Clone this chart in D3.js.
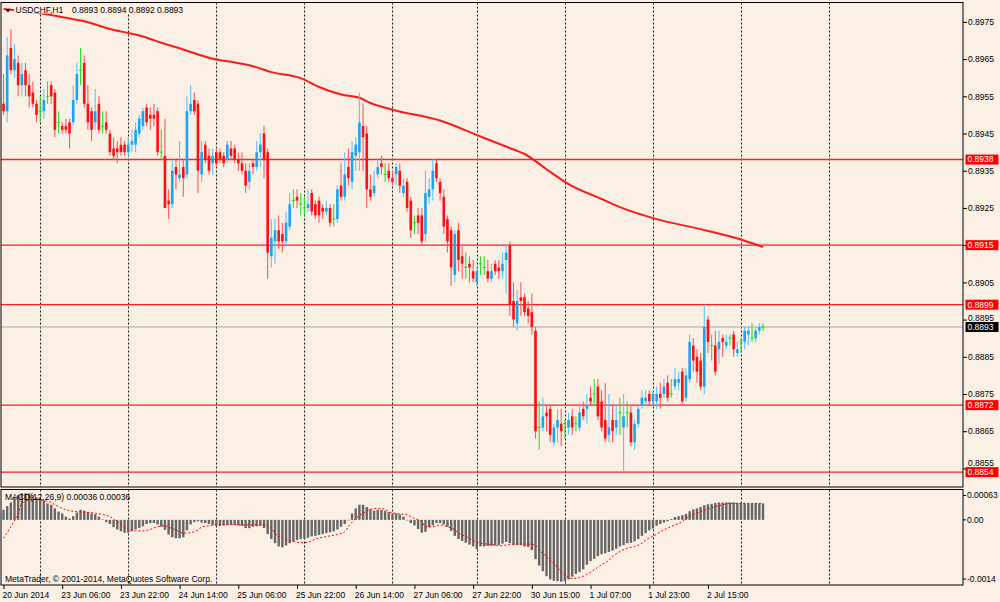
<!DOCTYPE html>
<html lang="en">
<head>
<meta charset="UTF-8" />
<title>USDCHF,H1</title>
<script src="https://d3js.org/d3.v7.min.js"></script>
<style>
  body { margin: 0; background: #faf0e6; }
  svg { display: block; font-family: "Liberation Sans", Arial, sans-serif; font-size: 8.5px; }
</style>
</head>
<body>
<svg width="1000" height="602"></svg>
<script>
// hourly bars, 20 Jun 2014 14:00 .. 3 Jul 2014 06:00
const opens = [
  0.8953,0.8951,0.8968,0.8962,0.8964,0.8958,0.8962,0.8958,0.8956,0.8953,
  0.8951,0.8951,0.8955,0.8958,0.8956,0.8948,0.8947,0.8947,0.8948,0.8948,
  0.8954,0.8962,0.8964,0.8953,0.8951,0.8948,0.8953,0.8947,0.8948,0.8945,
  0.8941,0.8941,0.8942,0.8942,0.8940,0.8942,0.8942,0.8945,0.8947,0.8952,
  0.8950,0.8950,0.8951,0.8940,0.8939,0.8927,0.8926,0.8936,0.8933,0.8936,
  0.8934,0.8951,0.8954,0.8953,0.8934,0.8942,0.8939,0.8937,0.8940,0.8940,
  0.8939,0.8938,0.8941,0.8941,0.8938,0.8937,0.8935,0.8932,0.8937,0.8936,
  0.8940,0.8945,0.8940,0.8912,0.8916,0.8919,0.8918,0.8916,0.8920,0.8927,
  0.8928,0.8926,0.8925,0.8925,0.8929,0.8926,0.8927,0.8925,0.8924,0.8925,
  0.8922,0.8922,0.8931,0.8928,0.8936,0.8932,0.8939,0.8940,0.8947,0.8945,
  0.8930,0.8929,0.8934,0.8937,0.8934,0.8935,0.8933,0.8934,0.8935,0.8929,
  0.8932,0.8927,0.8921,0.8923,0.8923,0.8918,0.8928,0.8930,0.8937,0.8932,
  0.8928,0.8922,0.8919,0.8907,0.8919,0.8912,0.8909,0.8910,0.8908,0.8905,
  0.8910,0.8909,0.8908,0.8906,0.8910,0.8909,0.8908,0.8911,0.8915,0.8900,
  0.8894,0.8901,0.8901,0.8898,0.8897,0.8892,0.8866,0.8866,0.8870,0.8871,
  0.8862,0.8866,0.8867,0.8867,0.8866,0.8869,0.8867,0.8866,0.8871,0.8871,
  0.8874,0.8875,0.8877,0.8873,0.8868,0.8864,0.8868,0.8866,0.8870,0.8866,
  0.8870,0.8870,0.8862,0.8867,0.8872,0.8873,0.8875,0.8873,0.8873,0.8875,
  0.8875,0.8878,0.8875,0.8877,0.8878,0.8881,0.8874,0.8879,0.8888,0.8885,
  0.8884,0.8877,0.8895,0.8888,0.8888,0.8887,0.8890,0.8888,0.8890,0.8891,
  0.8886,0.8889,0.8889,0.8891,0.8890,0.8890,0.8892,0.8893
];
const highs = [
  0.8961,0.8971,0.8973,0.8969,0.8966,0.8964,0.8964,0.8961,0.8959,0.8954,
  0.8955,0.8957,0.8959,0.8959,0.8957,0.8951,0.8948,0.8949,0.8949,0.8958,
  0.8964,0.8968,0.8966,0.8958,0.8952,0.8957,0.8955,0.8951,0.8951,0.8946,
  0.8944,0.8943,0.8944,0.8943,0.8944,0.8946,0.8948,0.8950,0.8952,0.8953,
  0.8952,0.8953,0.8952,0.8946,0.8949,0.8930,0.8938,0.8938,0.8943,0.8938,
  0.8955,0.8958,0.8956,0.8954,0.8943,0.8943,0.8941,0.8941,0.8941,0.8941,
  0.8940,0.8943,0.8943,0.8942,0.8940,0.8940,0.8937,0.8937,0.8938,0.8943,
  0.8945,0.8947,0.8941,0.8922,0.8922,0.8923,0.8921,0.8924,0.8929,0.8930,
  0.8930,0.8929,0.8928,0.8930,0.8930,0.8927,0.8928,0.8926,0.8927,0.8926,
  0.8926,0.8931,0.8937,0.8940,0.8941,0.8943,0.8944,0.8956,0.8953,0.8947,
  0.8934,0.8935,0.8938,0.8939,0.8937,0.8937,0.8935,0.8937,0.8937,0.8933,
  0.8933,0.8928,0.8923,0.8925,0.8925,0.8935,0.8933,0.8938,0.8938,0.8933,
  0.8930,0.8923,0.8920,0.8919,0.8921,0.8915,0.8913,0.8912,0.8911,0.8909,
  0.8912,0.8912,0.8911,0.8910,0.8911,0.8911,0.8913,0.8915,0.8916,0.8905,
  0.8903,0.8905,0.8902,0.8900,0.8902,0.8893,0.8873,0.8874,0.8872,0.8872,
  0.8867,0.8871,0.8871,0.8868,0.8870,0.8871,0.8869,0.8872,0.8873,0.8875,
  0.8877,0.8879,0.8879,0.8876,0.8878,0.8875,0.8872,0.8872,0.8874,0.8875,
  0.8873,0.8872,0.8868,0.8872,0.8876,0.8876,0.8876,0.8876,0.8877,0.8878,
  0.8879,0.8880,0.8879,0.8882,0.8881,0.8882,0.8882,0.8891,0.8890,0.8887,
  0.8886,0.8899,0.8896,0.8891,0.8892,0.8892,0.8891,0.8891,0.8891,0.8892,
  0.8889,0.8890,0.8893,0.8893,0.8894,0.8893,0.8894,0.8894
];
const lows = [
  0.8950,0.8948,0.8961,0.8960,0.8955,0.8955,0.8955,0.8952,0.8952,0.8948,
  0.8948,0.8949,0.8953,0.8953,0.8944,0.8945,0.8945,0.8945,0.8941,0.8947,
  0.8953,0.8958,0.8952,0.8946,0.8943,0.8946,0.8945,0.8945,0.8945,0.8939,
  0.8938,0.8937,0.8939,0.8939,0.8939,0.8940,0.8940,0.8944,0.8946,0.8947,
  0.8946,0.8947,0.8939,0.8938,0.8925,0.8922,0.8925,0.8930,0.8932,0.8928,
  0.8933,0.8950,0.8950,0.8929,0.8932,0.8937,0.8934,0.8934,0.8936,0.8937,
  0.8936,0.8937,0.8938,0.8937,0.8935,0.8934,0.8929,0.8930,0.8934,0.8935,
  0.8936,0.8933,0.8906,0.8909,0.8910,0.8914,0.8913,0.8915,0.8919,0.8925,
  0.8925,0.8923,0.8923,0.8924,0.8923,0.8922,0.8921,0.8922,0.8923,0.8920,
  0.8920,0.8921,0.8927,0.8927,0.8931,0.8930,0.8935,0.8935,0.8935,0.8925,
  0.8927,0.8928,0.8933,0.8934,0.8932,0.8932,0.8931,0.8931,0.8929,0.8928,
  0.8924,0.8917,0.8918,0.8918,0.8915,0.8916,0.8926,0.8927,0.8932,0.8927,
  0.8918,0.8913,0.8904,0.8905,0.8908,0.8906,0.8906,0.8905,0.8905,0.8904,
  0.8907,0.8907,0.8905,0.8905,0.8907,0.8906,0.8906,0.8902,0.8896,0.8893,
  0.8892,0.8896,0.8896,0.8894,0.8891,0.8863,0.8860,0.8865,0.8865,0.8862,
  0.8861,0.8862,0.8861,0.8863,0.8864,0.8864,0.8865,0.8865,0.8868,0.8867,
  0.8872,0.8872,0.8868,0.8865,0.8862,0.8862,0.8862,0.8864,0.8864,0.8854,
  0.8866,0.8861,0.8860,0.8866,0.8871,0.8872,0.8872,0.8872,0.8871,0.8871,
  0.8874,0.8873,0.8874,0.8876,0.8876,0.8872,0.8873,0.8878,0.8881,0.8878,
  0.8876,0.8875,0.8886,0.8884,0.8880,0.8883,0.8885,0.8887,0.8888,0.8885,
  0.8885,0.8886,0.8887,0.8888,0.8889,0.8889,0.8891,0.8892
];
const closes = [
  0.8951,0.8966,0.8962,0.8965,0.8958,0.8961,0.8958,0.8955,0.8953,0.8950,
  0.8951,0.8954,0.8955,0.8955,0.8946,0.8948,0.8946,0.8946,0.8945,0.8954,
  0.8961,0.8962,0.8953,0.8948,0.8946,0.8951,0.8946,0.8947,0.8946,0.8940,
  0.8939,0.8940,0.8940,0.8940,0.8942,0.8943,0.8946,0.8949,0.8951,0.8948,
  0.8949,0.8949,0.8940,0.8940,0.8925,0.8926,0.8935,0.8934,0.8934,0.8933,
  0.8951,0.8953,0.8951,0.8935,0.8940,0.8938,0.8935,0.8939,0.8937,0.8938,
  0.8937,0.8942,0.8939,0.8938,0.8937,0.8935,0.8931,0.8935,0.8936,0.8940,
  0.8942,0.8938,0.8913,0.8917,0.8919,0.8916,0.8916,0.8921,0.8926,0.8927,
  0.8927,0.8926,0.8925,0.8926,0.8924,0.8923,0.8923,0.8924,0.8925,0.8921,
  0.8922,0.8930,0.8928,0.8934,0.8933,0.8940,0.8942,0.8948,0.8944,0.8930,
  0.8928,0.8931,0.8936,0.8936,0.8934,0.8933,0.8932,0.8936,0.8931,0.8931,
  0.8925,0.8919,0.8921,0.8921,0.8916,0.8929,0.8930,0.8935,0.8933,0.8929,
  0.8920,0.8916,0.8909,0.8918,0.8911,0.8910,0.8909,0.8909,0.8906,0.8908,
  0.8910,0.8909,0.8906,0.8908,0.8908,0.8908,0.8910,0.8913,0.8899,0.8895,
  0.8900,0.8900,0.8897,0.8896,0.8893,0.8865,0.8866,0.8869,0.8869,0.8864,
  0.8866,0.8868,0.8865,0.8867,0.8868,0.8866,0.8867,0.8870,0.8869,0.8872,
  0.8873,0.8875,0.8869,0.8866,0.8863,0.8866,0.8865,0.8868,0.8870,0.8869,
  0.8870,0.8862,0.8867,0.8871,0.8874,0.8874,0.8873,0.8875,0.8875,0.8874,
  0.8877,0.8874,0.8875,0.8879,0.8879,0.8873,0.8880,0.8889,0.8884,0.8881,
  0.8877,0.8893,0.8889,0.8888,0.8881,0.8889,0.8889,0.8889,0.8890,0.8887,
  0.8887,0.8889,0.8892,0.8892,0.8890,0.8892,0.8893,0.8893
];

// MACD(12,26,9) main values, one per bar
const macd = [
  0.00022,0.00030,0.00038,0.00049,0.00054,0.00058,0.00058,0.00058,0.00054,0.00049,
  0.00046,0.00042,0.00036,0.00033,0.00025,0.00018,0.00014,0.00007,0.00003,0.00008,
  0.00016,0.00022,0.00020,0.00017,0.00014,0.00012,0.00007,0.00001,-0.00005,-0.00009,
  -0.00016,-0.00021,-0.00025,-0.00028,-0.00028,-0.00025,-0.00021,-0.00018,-0.00014,-0.00009,
  -0.00007,-0.00007,-0.00010,-0.00015,-0.00022,-0.00032,-0.00038,-0.00040,-0.00040,-0.00038,
  -0.00023,-0.00010,-0.00005,-0.00003,-0.00006,-0.00007,-0.00009,-0.00011,-0.00013,-0.00013,
  -0.00012,-0.00011,-0.00011,-0.00011,-0.00012,-0.00013,-0.00018,-0.00018,-0.00015,-0.00014,
  -0.00013,-0.00018,-0.00031,-0.00042,-0.00051,-0.00058,-0.00060,-0.00056,-0.00051,-0.00047,
  -0.00044,-0.00042,-0.00041,-0.00039,-0.00036,-0.00035,-0.00033,-0.00031,-0.00029,-0.00027,
  -0.00025,-0.00021,-0.00015,-0.00009,-0.00001,0.00014,0.00025,0.00033,0.00033,0.00028,
  0.00023,0.00020,0.00022,0.00022,0.00020,0.00017,0.00014,0.00014,0.00012,0.00007,
  0.00000,-0.00007,-0.00012,-0.00020,-0.00028,-0.00026,-0.00016,-0.00012,-0.00007,-0.00007,
  -0.00010,-0.00015,-0.00024,-0.00035,-0.00042,-0.00046,-0.00050,-0.00054,-0.00058,-0.00064,
  -0.00058,-0.00058,-0.00057,-0.00057,-0.00056,-0.00055,-0.00052,-0.00048,-0.00051,-0.00055,
  -0.00055,-0.00055,-0.00058,-0.00059,-0.00066,-0.00086,-0.00100,-0.00112,-0.00123,-0.00130,
  -0.00133,-0.00134,-0.00135,-0.00134,-0.00130,-0.00124,-0.00118,-0.00114,-0.00108,-0.00098,
  -0.00090,-0.00085,-0.00079,-0.00075,-0.00073,-0.00070,-0.00067,-0.00063,-0.00058,-0.00055,
  -0.00051,-0.00050,-0.00047,-0.00042,-0.00035,-0.00029,-0.00023,-0.00019,-0.00013,-0.00009,
  -0.00006,-0.00003,0.00002,0.00006,0.00008,0.00010,0.00013,0.00019,0.00023,0.00025,
  0.00028,0.00032,0.00034,0.00035,0.00037,0.00038,0.00038,0.00038,0.00038,0.00038,
  0.00037,0.00036,0.00036,0.00036,0.00036,0.00036,0.00036,0.00036
];

// signal line, read at these bars
const signalBars = [0,2,4,5,7,9,11,13,14,16,18,20,22,24,25,27,29,31,33,34,36,38,40,42,44,45,47,49,51,53,
  54,56,58,60,62,64,65,67,69,71,73,74,76,78,80,82,84,85,87,89,91,93,94,96,98,100,102,104,105,107,
  110,112,114,115,117,119,121,123,124,126,128,130,132,134,135,137,139,141,143,145,146,148,150,152,154,155,157,159,
  161,163,165,166,168,170,172,174,175,177,179,181,183,185,186,188,190,192,194,196,197,199,203,207];
const signalVals = [-0.00040,-0.00015,0.00014,0.00036,0.00043,0.00045,0.00042,0.00038,0.00033,0.00025,
  0.00020,0.00018,0.00017,0.00016,0.00014,0.00012,0.00007,-0.00004,-0.00015,-0.00021,-0.00024,-0.00024,
  -0.00021,-0.00015,-0.00013,-0.00016,-0.00022,-0.00029,-0.00028,-0.00022,-0.00016,-0.00013,-0.00011,
  -0.00011,-0.00010,-0.00011,-0.00011,-0.00011,-0.00011,-0.00011,-0.00018,-0.00029,-0.00040,-0.00045,
  -0.00049,-0.00050,-0.00046,-0.00042,-0.00038,-0.00035,-0.00032,-0.00026,-0.00015,0.00003,0.00014,
  0.00023,0.00025,0.00023,0.00018,0.00014,
  0.00011,0.00003,-0.00004,-0.00015,-0.00015,-0.00011,-0.00015,-0.00022,-0.00029,-0.00036,-0.00045,
  -0.00051,-0.00053,-0.00055,-0.00057,-0.00055,-0.00053,-0.00053,-0.00053,-0.00055,-0.00066,-0.00080,
  -0.00095,-0.00113,-0.00126,-0.00128,-0.00126,-0.00119,-0.00109,-0.00098,-0.00088,-0.00080,-0.00069,
  -0.00062,-0.00058,-0.00051,-0.00044,-0.00036,-0.00026,-0.00018,-0.00011,-0.00004,0.00003,0.00011,
  0.00018,0.00023,0.00029,0.00033,0.00035,0.00036,0.00036,0.00036];

// moving average, read at these bars
const maBars = [0,11,17,22,29,34,38,43,49,57,63,68,73,81,86,92,97,100,106,119,130,139,142,148,154,163,168,178,190,202,207];
const maVals = [0.89785,0.89772,0.89761,0.89752,0.89731,0.89720,0.89711,0.89694,0.89676,0.89651,0.89641,
  0.89631,0.89615,0.89599,0.89575,0.89555,0.89546,0.89532,0.89514,0.89485,0.89442,0.89407,0.89395,
  0.89354,0.89314,0.89274,0.89252,0.89220,0.89193,0.89162,0.89145];

const levels = [0.8938, 0.8915, 0.8899, 0.8872, 0.8854];
const bidPrice = 0.8893;
const priceTicks = [0.8975,0.8965,0.8955,0.8945,0.8935,0.8925,0.8915,0.8905,0.8895,0.8885,0.8875,0.8865,0.8855];
const macdTicks = [0.00063, 0, -0.0014];
const macdTickLabels = ["0.00063", "0.00", "-0.0014"];
const dayStarts = [10, 34, 58, 82, 106, 129, 153, 177, 201, 225];
const timeTickBars = [0,16,32,48,64,80,96,112,128,144,160,176,192];
const timeTickLabels = ["20 Jun 2014","23 Jun 06:00","23 Jun 22:00","24 Jun 14:00","25 Jun 06:00",
  "25 Jun 22:00","26 Jun 14:00","27 Jun 06:00","27 Jun 22:00","30 Jun 15:00","1 Jul 07:00",
  "1 Jul 23:00","2 Jul 15:00"];

const svg = d3.select("svg");
const R = 963, mainTop = 2.5, mainBot = 487, macdTop = 489.5, macdBot = 585;
const last = closes.length - 1;

const x = d3.scaleLinear().domain([0, last]).range([3.5, 763]);
const y = d3.scaleLinear().domain([0.8850, 0.8980]).range([mainBot, 3.3]);
const ym = d3.scaleLinear().domain([-0.0014, 0.00063]).range([584, 491]);

svg.append("rect").attr("width", 1000).attr("height", 602).attr("fill", "#faf0e6");

svg.append("clipPath").attr("id", "cm").append("rect")
  .attr("x", 1).attr("y", mainTop).attr("width", R - 1).attr("height", mainBot - mainTop);
svg.append("clipPath").attr("id", "cd").append("rect")
  .attr("x", 1).attr("y", macdTop).attr("width", R - 1).attr("height", macdBot - macdTop);

// day grid
const grid = svg.append("g").attr("stroke", "#1a1a1a").attr("stroke-dasharray", "2,2");
dayStarts.filter(d => x(d) < R).forEach(d => {
  const gx = Math.round(x(d)) + 0.5;
  grid.append("line").attr("x1", gx).attr("x2", gx).attr("y1", mainTop).attr("y2", mainBot);
  grid.append("line").attr("x1", gx).attr("x2", gx).attr("y1", macdTop).attr("y2", macdBot);
});

const main = svg.append("g").attr("clip-path", "url(#cm)");

// levels
main.selectAll(".lvl").data(levels).join("line")
  .attr("x1", 1).attr("x2", R).attr("y1", d => y(d)).attr("y2", d => y(d))
  .attr("stroke", "#ff2020").attr("stroke-width", (d, i) => i === 0 ? 1.6 : 1.2);
main.append("line").attr("x1", 1).attr("x2", R).attr("y1", y(bidPrice)).attr("y2", y(bidPrice))
  .attr("stroke", "#a8a8a8").attr("stroke-width", 1.2);

// moving average
main.append("path")
  .datum(maBars.map((b, i) => [b, maVals[i]]))
  .attr("fill", "none").attr("stroke", "#ff1a1a").attr("stroke-width", 2)
  .attr("d", d3.line().curve(d3.curveMonotoneX).x(d => x(d[0])).y(d => y(d[1])));

// candles
const bodyCol = i => closes[i] > opens[i] ? "#1ca4f4" : closes[i] < opens[i] ? "#ff1010" : "#22dd22";
const wickCol = i => closes[i] > opens[i] ? "#5cc6fa" : closes[i] < opens[i] ? "#ff5a5a" : "#2ee02e";
const bars = d3.range(closes.length);
const cg = main.selectAll(".c").data(bars).join("g");
cg.append("line")
  .attr("x1", i => x(i)).attr("x2", i => x(i))
  .attr("y1", i => y(highs[i])).attr("y2", i => y(lows[i]))
  .attr("stroke", wickCol).attr("stroke-width", 1.1);
cg.filter(i => opens[i] !== closes[i]).append("rect")
  .attr("x", i => x(i) - 1.3).attr("width", 2.6)
  .attr("y", i => y(Math.max(opens[i], closes[i])))
  .attr("height", i => Math.max(1, y(Math.min(opens[i], closes[i])) - y(Math.max(opens[i], closes[i]))))
  .attr("fill", bodyCol);
cg.filter(i => opens[i] === closes[i]).append("line")
  .attr("x1", i => x(i) - 1.6).attr("x2", i => x(i) + 1.6)
  .attr("y1", i => y(opens[i])).attr("y2", i => y(opens[i]))
  .attr("stroke", "#22dd22").attr("stroke-width", 1);

// title
const f4 = d3.format(".4f");
svg.append("rect").attr("x", 14).attr("y", 3).attr("width", 172).attr("height", 10.5).attr("fill", "#faf0e6");
svg.append("path").attr("d", "M5.5,9 L10.5,9 L8,12.5 Z").attr("fill", "#000");
svg.append("text").attr("x", 15.5).attr("y", 13).text("USDCHF,H1");
svg.append("text").attr("x", 72).attr("y", 13)
  .text([opens[last], highs[last], lows[last], closes[last]].map(f4).join(" "));

// MACD panel
const sub = svg.append("g").attr("clip-path", "url(#cd)");
sub.selectAll("rect").data(bars).join("rect")
  .attr("x", i => x(i) - 1.2).attr("width", 2.4)
  .attr("y", i => Math.min(ym(0), ym(macd[i])))
  .attr("height", i => Math.max(0.5, Math.abs(ym(macd[i]) - ym(0))))
  .attr("fill", "#666");
sub.append("path")
  .datum(signalBars.map((b, i) => [b, signalVals[i]]))
  .attr("fill", "none").attr("stroke", "#ff0000").attr("stroke-width", 1).attr("stroke-dasharray", "2,2")
  .attr("d", d3.line().curve(d3.curveMonotoneX).x(d => x(d[0])).y(d => ym(d[1])));

const f5 = d3.format(".5f");
svg.append("text").attr("x", 5).attr("y", 500)
  .text(`MACD(12,26,9) ${f5(macd[last])} ${f5(signalVals[signalVals.length - 1])}`);
svg.append("text").attr("x", 5).attr("y", 581.5).text("MetaTrader, © 2001-2014, MetaQuotes Software Corp.");

// borders
svg.append("rect").attr("x", 1).attr("y", mainTop).attr("width", R - 1).attr("height", mainBot - mainTop)
  .attr("fill", "none").attr("stroke", "#000");
svg.append("rect").attr("x", 1).attr("y", macdTop).attr("width", R - 1).attr("height", macdBot - macdTop)
  .attr("fill", "none").attr("stroke", "#000");

// price axis; a tick label that would run into a price tag is lifted just above it
const tagYs = levels.concat([bidPrice]).map(v => y(v));
const pa = svg.append("g").attr("transform", `translate(${R},0)`)
  .call(d3.axisRight(y).tickValues(priceTicks).tickSize(4).tickPadding(1).tickFormat(f4));
pa.select(".domain").remove();
pa.selectAll("text").attr("font-size", "8.5px").attr("font-family", "Liberation Sans, Arial, sans-serif").attr("fill", "#000")
  .attr("y", d => {
    const ty = y(d);
    const hit = tagYs.find(t => t > ty && t - 5 < ty + 4.5);
    return hit === undefined ? 0 : (hit - 5.5 - 4.2) - ty;
  });

// MACD axis
macdTicks.forEach((v, i) => {
  const ty = Math.min(Math.max(ym(v), 495.5), 579);
  svg.append("line").attr("x1", R).attr("x2", R + 3).attr("y1", ty).attr("y2", ty).attr("stroke", "#000");
  svg.append("text").attr("x", R + 4).attr("y", ty).attr("dy", "0.32em").text(macdTickLabels[i]);
});

// level and bid labels
const tag = (v, fill) => {
  svg.append("rect").attr("x", R + 2.5).attr("y", y(v) - 5).attr("width", 33).attr("height", 10).attr("fill", fill);
  svg.append("text").attr("x", R + 4.5).attr("y", y(v)).attr("dy", "0.34em").attr("fill", "#fff").text(f4(v));
};
levels.forEach(v => tag(v, "#ff0000"));
tag(bidPrice, "#000");

// time axis
const ta = svg.append("g").attr("transform", `translate(0,${macdBot})`)
  .call(d3.axisBottom(x).tickValues(timeTickBars).tickSize(4).tickFormat((d, i) => timeTickLabels[i]));
ta.select(".domain").remove();
ta.selectAll("text").attr("text-anchor", "start").attr("x", -1.5)
  .attr("font-size", "8.5px").attr("font-family", "Liberation Sans, Arial, sans-serif").attr("fill", "#000");
</script>
</body>
</html>
